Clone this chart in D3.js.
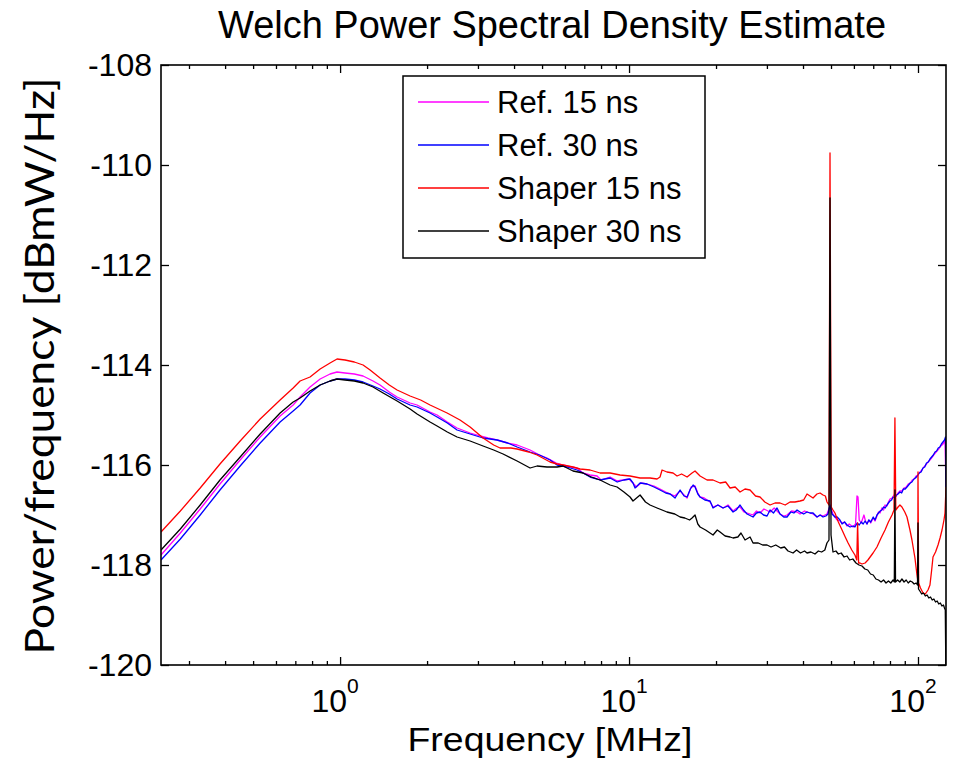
<!DOCTYPE html>
<html>
<head>
<meta charset="utf-8">
<script src="https://cdn.jsdelivr.net/npm/d3@7"></script>
<style>
  body { margin: 0; background: #fff; }
  text { font-family: "Liberation Sans", Arial, sans-serif; fill: #000; }
</style>
</head>
<body>
<div class="chart"></div>
<script>
// Welch PSD, values: [frequency MHz, dBmW/Hz]
const ref15 = [
  [0.240,-117.80],[0.280,-117.36],[0.328,-116.88],[0.384,-116.38],[0.451,-115.90],[0.529,-115.44],
  [0.620,-115.02],[0.688,-114.80],[0.727,-114.64],[0.787,-114.44],[0.853,-114.28],[0.923,-114.18],
  [0.976,-114.14],[1.040,-114.16],[1.120,-114.18],[1.201,-114.22],[1.300,-114.32],[1.375,-114.40],
  [1.480,-114.54],[1.575,-114.64],[1.747,-114.76],[1.847,-114.80],[2.048,-114.94],[2.166,-115.00],
  [2.350,-115.14],[2.540,-115.26],[2.818,-115.36],[2.979,-115.40],[3.250,-115.46],[3.494,-115.50],
  [3.800,-115.56],[4.098,-115.60],[4.545,-115.70],[4.900,-115.80],[5.204,-115.86],[5.600,-115.96],
  [5.910,-116.00],[6.300,-116.04],[6.609,-116.06],[6.932,-116.16],[7.330,-116.20],[7.750,-116.22],
  [8.000,-116.30],[8.600,-116.24],[9.100,-116.32],[9.500,-116.30],[10.00,-116.28],[10.32,-116.36],
  [10.60,-116.44],[11.00,-116.36],[11.54,-116.38],[12.20,-116.42],[12.80,-116.48],[13.40,-116.54],
  [13.90,-116.58],[14.40,-116.62],[15.02,-116.52],[15.50,-116.60],[15.88,-116.66],[16.40,-116.44],
  [16.92,-116.42],[17.30,-116.56],[17.61,-116.64],[18.20,-116.66],[19.07,-116.74],[19.53,-116.84],
  [20.30,-116.80],[21.15,-116.86],[22.00,-116.80],[22.91,-116.92],[23.60,-116.86],[24.22,-116.84],
  [25.00,-116.94],[25.61,-116.96],[26.86,-117.00],[27.60,-116.92],[28.40,-116.96],[29.30,-116.88],
  [30.76,-116.94],[31.80,-116.86],[32.52,-116.92],[33.31,-116.98],[34.30,-117.02],[35.22,-117.00],
  [36.50,-116.92],[38.14,-116.94],[39.06,-116.98],[40.50,-116.92],[42.30,-116.96],[43.33,-116.98],
  [44.73,-117.04],[46.00,-117.00],[46.92,-117.02],[48.43,-116.98],[49.60,-116.82],[50.80,-116.98],
  [51.60,-117.04],[52.50,-117.10],[53.70,-117.12],[54.60,-117.16],[55.70,-117.14],[56.80,-117.22],
  [57.80,-117.18],[59.60,-117.24],[60.80,-117.18],[61.50,-116.62],[62.00,-116.64],[62.60,-117.10],
  [63.60,-117.16],[65.00,-117.00],[65.80,-117.12],[66.60,-117.18],[67.60,-117.10],[68.60,-117.16],
  [70.00,-117.06],[71.00,-117.12],[72.10,-117.02],[73.00,-116.94],[73.90,-116.96],[75.00,-116.86],
  [76.00,-116.90],[76.90,-116.80],[78.10,-116.82],[79.00,-116.74],[80.00,-116.68],[81.30,-116.66],
  [82.60,-116.60],[84.00,-116.62],[85.30,-116.56],[86.60,-116.52],[88.00,-116.52],[89.50,-116.46],
  [91.00,-116.44],[92.50,-116.38],[94.00,-116.36],[95.50,-116.30],[97.00,-116.28],[98.50,-116.22],
  [100.0,-116.20],[101.6,-116.14],[103.2,-116.10],[104.8,-116.04],[106.5,-116.00],[108.3,-115.94],
  [110.0,-115.90],[112.0,-115.84],[114.0,-115.78],[116.3,-115.72],[118.0,-115.68],[120.0,-115.62],
  [122.1,-115.58],[124.0,-115.52],[125.0,-116.44]
];

const ref30 = [
  [0.240,-117.90],[0.280,-117.48],[0.328,-117.00],[0.384,-116.50],[0.451,-116.02],[0.529,-115.56],
  [0.620,-115.14],[0.688,-114.92],[0.727,-114.80],[0.787,-114.56],[0.853,-114.40],[0.923,-114.32],
  [0.976,-114.28],[1.040,-114.28],[1.120,-114.30],[1.201,-114.34],[1.300,-114.42],[1.375,-114.48],
  [1.480,-114.58],[1.575,-114.68],[1.747,-114.80],[1.847,-114.84],[2.048,-114.96],[2.166,-115.04],
  [2.350,-115.16],[2.540,-115.30],[2.818,-115.38],[3.125,-115.46],[3.494,-115.50],[3.800,-115.56],
  [4.098,-115.64],[4.545,-115.74],[4.900,-115.80],[5.330,-115.90],[5.636,-116.00],[6.100,-116.04],
  [6.609,-116.10],[6.932,-116.16],[7.329,-116.24],[7.750,-116.28],[7.937,-116.30],[8.597,-116.26],
  [9.100,-116.34],[9.600,-116.30],[10.08,-116.28],[10.32,-116.36],[10.49,-116.46],[10.92,-116.36],
  [11.54,-116.38],[12.20,-116.44],[12.80,-116.50],[13.40,-116.56],[13.87,-116.58],[14.43,-116.66],
  [15.02,-116.50],[15.50,-116.62],[15.88,-116.64],[16.30,-116.48],[16.66,-116.40],[16.92,-116.44],
  [17.30,-116.58],[17.61,-116.64],[18.30,-116.70],[19.07,-116.72],[19.53,-116.86],[20.30,-116.80],
  [21.15,-116.86],[22.00,-116.82],[22.91,-116.94],[23.50,-116.90],[24.22,-116.80],[24.90,-116.90],
  [25.61,-116.98],[26.86,-117.04],[27.60,-116.96],[28.40,-116.94],[29.20,-117.00],[30.03,-117.02],
  [30.76,-116.90],[31.60,-116.96],[32.52,-116.86],[33.31,-116.98],[34.30,-117.04],[35.22,-117.04],
  [36.30,-116.94],[37.20,-116.96],[38.14,-116.90],[39.06,-116.94],[40.20,-116.98],[41.30,-116.94],
  [42.30,-116.96],[43.33,-116.96],[44.73,-117.04],[45.80,-117.00],[46.92,-117.04],[48.00,-117.02],
  [48.82,-116.98],[49.60,-116.80],[50.40,-116.98],[51.60,-117.04],[52.50,-117.04],[53.70,-117.10],
  [54.60,-117.18],[55.70,-117.14],[56.80,-117.20],[58.20,-117.24],[59.60,-117.22],[60.50,-117.24],
  [61.60,-117.16],[62.60,-117.20],[63.60,-117.14],[64.60,-117.18],[65.60,-117.12],[66.60,-117.18],
  [67.60,-117.10],[68.60,-117.14],[70.00,-117.04],[71.00,-117.10],[72.10,-117.00],[73.00,-116.96],
  [74.00,-116.92],[75.00,-116.90],[76.00,-116.84],[77.00,-116.86],[78.10,-116.80],[79.00,-116.76],
  [80.00,-116.72],[81.00,-116.70],[82.00,-116.64],[83.20,-116.66],[84.30,-116.60],[85.30,-116.58],
  [86.60,-116.54],[87.80,-116.56],[89.00,-116.48],[90.30,-116.48],[91.60,-116.44],[92.80,-116.40],
  [94.00,-116.36],[95.30,-116.34],[96.80,-116.28],[98.00,-116.26],[99.50,-116.22],[101.0,-116.16],
  [102.5,-116.14],[104.0,-116.06],[105.5,-116.04],[107.0,-115.96],[108.6,-115.94],[110.0,-115.88],
  [111.5,-115.84],[113.0,-115.80],[114.5,-115.74],[116.0,-115.72],[117.5,-115.66],[119.0,-115.64],
  [120.5,-115.58],[122.0,-115.54],[123.5,-115.50],[124.5,-115.44],[125.0,-116.44]
];

const shaper15 = [
  [0.240,-117.34],[0.280,-116.92],[0.328,-116.46],[0.384,-115.98],[0.451,-115.52],[0.529,-115.08],
  [0.620,-114.70],[0.688,-114.46],[0.727,-114.32],[0.787,-114.24],[0.853,-114.08],[0.923,-113.96],
  [0.976,-113.88],[1.040,-113.90],[1.120,-113.94],[1.201,-114.00],[1.270,-114.10],[1.375,-114.26],
  [1.480,-114.40],[1.575,-114.50],[1.747,-114.62],[1.900,-114.70],[2.048,-114.80],[2.346,-114.96],
  [2.600,-115.10],[2.818,-115.24],[3.125,-115.46],[3.400,-115.60],[3.578,-115.66],[3.900,-115.66],
  [4.098,-115.68],[4.500,-115.74],[4.805,-115.80],[5.330,-115.94],[5.640,-115.98],[5.910,-116.00],
  [6.400,-116.04],[6.770,-116.08],[7.330,-116.10],[7.940,-116.16],[8.600,-116.16],[9.310,-116.20],
  [10.08,-116.22],[10.92,-116.26],[11.82,-116.26],[12.50,-116.28],[12.80,-116.24],[13.01,-116.10],
  [13.53,-116.14],[14.20,-116.16],[14.66,-116.22],[15.20,-116.18],[15.88,-116.24],[16.52,-116.16],
  [16.92,-116.12],[17.61,-116.22],[18.62,-116.30],[19.53,-116.30],[20.65,-116.36],[21.60,-116.34],
  [22.37,-116.46],[23.30,-116.44],[24.22,-116.54],[25.20,-116.48],[26.23,-116.50],[27.40,-116.62],
  [28.40,-116.64],[29.50,-116.74],[30.76,-116.80],[32.00,-116.76],[33.31,-116.76],[34.70,-116.80],
  [36.07,-116.74],[37.50,-116.74],[39.06,-116.72],[40.20,-116.70],[41.30,-116.58],[42.30,-116.62],
  [43.33,-116.66],[44.70,-116.58],[45.81,-116.56],[46.92,-116.60],[47.80,-116.62],[48.43,-116.74],
  [49.20,-116.80],[49.60,-109.76],[50.10,-116.84],[50.80,-116.90],[51.60,-116.96],[53.00,-117.14],
  [54.60,-117.30],[56.00,-117.44],[57.30,-117.56],[59.00,-117.70],[60.50,-117.80],[61.40,-117.90],
  [61.80,-117.16],[62.30,-117.96],[63.00,-117.96],[64.00,-117.98],[65.60,-117.96],[67.10,-117.90],
  [69.90,-117.76],[72.10,-117.64],[74.50,-117.46],[76.90,-117.30],[79.00,-117.14],[81.30,-117.00],
  [82.60,-116.90],[83.20,-115.06],[83.80,-116.90],[85.30,-116.84],[86.60,-116.80],[88.00,-116.84],
  [90.00,-116.94],[91.60,-117.04],[93.80,-117.30],[95.30,-117.50],[97.60,-117.86],[99.20,-118.20],
  [99.80,-118.30],[100.0,-116.14],[100.5,-118.36],[102.0,-118.46],[104.1,-118.56],[106.0,-118.58],
  [108.3,-118.50],[110.0,-118.40],[111.5,-118.10],[112.7,-117.84],[115.0,-117.74],[117.3,-117.60],
  [119.2,-117.46],[121.1,-117.30],[123.0,-117.10],[124.0,-116.96],[125.0,-116.44]
];

const shaper30 = [
  [0.240,-117.70],[0.280,-117.28],[0.328,-116.80],[0.384,-116.30],[0.451,-115.84],[0.529,-115.38],
  [0.620,-114.96],[0.688,-114.74],[0.727,-114.66],[0.787,-114.52],[0.853,-114.40],[0.923,-114.32],
  [0.976,-114.28],[1.040,-114.30],[1.120,-114.32],[1.201,-114.36],[1.300,-114.44],[1.409,-114.56],
  [1.575,-114.72],[1.747,-114.88],[1.847,-114.98],[2.048,-115.14],[2.166,-115.22],[2.350,-115.34],
  [2.540,-115.44],[2.818,-115.52],[3.125,-115.62],[3.400,-115.70],[3.665,-115.78],[4.098,-115.92],
  [4.545,-116.06],[4.805,-116.02],[5.200,-116.04],[5.636,-116.04],[5.910,-116.02],[6.400,-116.12],
  [6.932,-116.16],[7.400,-116.24],[7.937,-116.30],[8.600,-116.40],[9.089,-116.44],[9.600,-116.54],
  [10.08,-116.64],[10.32,-116.72],[10.92,-116.60],[11.40,-116.74],[11.82,-116.80],[12.50,-116.86],
  [13.53,-116.94],[14.40,-116.98],[15.02,-117.04],[15.60,-117.06],[16.20,-117.10],[16.52,-117.06],
  [16.92,-117.00],[17.30,-117.18],[17.61,-117.24],[18.40,-117.30],[19.53,-117.40],[20.20,-117.30],
  [20.65,-117.34],[21.50,-117.42],[22.37,-117.44],[22.91,-117.46],[23.80,-117.44],[24.40,-117.36],
  [25.20,-117.50],[26.23,-117.44],[26.86,-117.56],[28.00,-117.56],[29.00,-117.60],[30.03,-117.60],
  [31.00,-117.64],[32.20,-117.60],[33.50,-117.66],[34.50,-117.64],[35.50,-117.72],[36.94,-117.76],
  [38.00,-117.70],[39.20,-117.76],[40.50,-117.72],[41.30,-117.76],[42.60,-117.74],[44.00,-117.78],
  [45.20,-117.72],[46.40,-117.74],[47.60,-117.70],[48.40,-117.56],[49.20,-117.50],[49.60,-110.66],
  [50.00,-117.40],[50.80,-117.74],[52.00,-117.72],[53.00,-117.78],[54.20,-117.76],[55.50,-117.84],
  [56.80,-117.82],[58.00,-117.90],[59.50,-117.88],[61.00,-117.96],[62.50,-118.00],[64.00,-118.02],
  [65.50,-118.08],[67.00,-118.10],[68.50,-118.18],[70.00,-118.20],[71.50,-118.28],[73.00,-118.30],
  [74.50,-118.34],[76.00,-118.30],[77.50,-118.36],[79.00,-118.32],[80.50,-118.36],[82.00,-118.30],
  [82.80,-118.34],[83.20,-116.50],[83.60,-118.34],[85.00,-118.30],[86.50,-118.34],[88.00,-118.28],
  [89.50,-118.34],[91.00,-118.30],[92.50,-118.36],[94.00,-118.32],[95.50,-118.34],[97.00,-118.38],
  [98.50,-118.36],[99.60,-118.40],[100.0,-117.16],[100.4,-118.48],[101.5,-118.52],[103.0,-118.58],
  [104.5,-118.56],[106.0,-118.62],[107.5,-118.60],[109.0,-118.66],[110.5,-118.64],[112.0,-118.70],
  [113.5,-118.68],[115.0,-118.74],[116.5,-118.72],[118.0,-118.78],[119.5,-118.76],[121.0,-118.82],
  [122.5,-118.80],[123.5,-118.86],[124.3,-118.90],[125.0,-120.40]
];

const seriesNames = ['Ref. 15 ns', 'Ref. 30 ns', 'Shaper 15 ns', 'Shaper 30 ns'];
const seriesData = [ref15, ref30, shaper15, shaper30];
const yTicks = [-120, -118, -116, -114, -112, -110, -108];
const xMajorTicks = [1, 10, 100];
const xMinorTicks = [0.3,0.4,0.5,0.6,0.7,0.8,0.9, 2,3,4,5,6,7,8,9, 20,30,40,50,60,70,80,90];
const xDomain = [0.24, 125];
const yDomain = [-120, -108];

// styles
const colors = ['#ff00ff', '#0000ff', '#ff0000', '#000000'];
const svgW = 957, svgH = 762;
const plot = {left: 161, right: 946, top: 65, bottom: 665};

const svg = d3.select('.chart').append('svg')
  .attr('width', svgW).attr('height', svgH);

const x = d3.scaleLog().domain(xDomain).range([plot.left, plot.right]);
const y = d3.scaleLinear().domain(yDomain).range([plot.bottom, plot.top]);

// clip so the lines stay inside the box
svg.append('clipPath').attr('id', 'plotClip')
  .append('rect')
  .attr('x', plot.left).attr('y', plot.top)
  .attr('width', plot.right - plot.left).attr('height', plot.bottom - plot.top);

const line = d3.line().x(d => x(d[0])).y(d => y(d[1]));

svg.append('g').attr('clip-path', 'url(#plotClip)')
  .selectAll('path').data(seriesData).join('path')
  .attr('d', line)
  .attr('fill', 'none')
  .attr('stroke', (d, i) => colors[i])
  .attr('stroke-width', 1.3)
  .attr('stroke-linejoin', 'round');

// ticks, all pointing inward like MATLAB
function styleAxis(g) {
  g.select('.domain').remove();
  g.selectAll('.tick line').attr('stroke', '#000').attr('stroke-width', 1.3);
}
svg.append('g').attr('transform', `translate(0,${plot.bottom})`)
  .call(d3.axisBottom(x).tickValues(xMajorTicks).tickSize(-8).tickFormat(''))
  .call(styleAxis);
svg.append('g').attr('transform', `translate(0,${plot.bottom})`)
  .call(d3.axisBottom(x).tickValues(xMinorTicks).tickSize(-4).tickFormat(''))
  .call(styleAxis);
svg.append('g').attr('transform', `translate(0,${plot.top})`)
  .call(d3.axisTop(x).tickValues(xMajorTicks).tickSize(-8).tickFormat(''))
  .call(styleAxis);
svg.append('g').attr('transform', `translate(0,${plot.top})`)
  .call(d3.axisTop(x).tickValues(xMinorTicks).tickSize(-4).tickFormat(''))
  .call(styleAxis);

svg.append('g').attr('transform', `translate(${plot.left},0)`)
  .call(d3.axisLeft(y).tickValues(yTicks).tickSize(-8).tickPadding(9).tickFormat(d => String(d)))
  .call(styleAxis)
  .call(g => g.selectAll('text')
    .style('font-family', '"Liberation Sans", Arial, sans-serif')
    .style('font-size', '32px'));
svg.append('g').attr('transform', `translate(${plot.right},0)`)
  .call(d3.axisRight(y).tickValues(yTicks).tickSize(-8).tickFormat(''))
  .call(styleAxis);

// x tick labels 10^n
const xLab = svg.append('g').selectAll('text').data(xMajorTicks).join('text')
  .attr('x', d => x(d) - 5).attr('y', 712)
  .attr('text-anchor', 'middle')
  .style('font-size', '32px');
xLab.append('tspan').text('10');
xLab.append('tspan').attr('dy', -19).style('font-size', '21px').text(d => Math.round(Math.log10(d)));

// box
svg.append('rect')
  .attr('x', plot.left).attr('y', plot.top)
  .attr('width', plot.right - plot.left).attr('height', plot.bottom - plot.top)
  .attr('fill', 'none').attr('stroke', '#000').attr('stroke-width', 1.6);

// title + axis labels
svg.append('text').attr('x', 552).attr('y', 38).attr('text-anchor', 'middle')
  .attr('textLength', 668).attr('lengthAdjust', 'spacingAndGlyphs')
  .style('font-size', '38px').text('Welch Power Spectral Density Estimate');

svg.append('text').attr('x', 550).attr('y', 751).attr('text-anchor', 'middle')
  .attr('textLength', 285).attr('lengthAdjust', 'spacingAndGlyphs')
  .style('font-size', '34px').text('Frequency [MHz]');

svg.append('text').attr('transform', 'translate(54,366) rotate(-90)')
  .attr('text-anchor', 'middle')
  .attr('textLength', 577).attr('lengthAdjust', 'spacingAndGlyphs')
  .style('font-family', 'Lato, "Open Sans", sans-serif')
  .style('font-size', '41px').text('Power/frequency [dBmW/Hz]');

// legend
const legend = svg.append('g');
legend.append('rect')
  .attr('x', 403).attr('y', 76).attr('width', 302).attr('height', 182)
  .attr('fill', '#fff').attr('stroke', '#000').attr('stroke-width', 1.5);
const rowY = d3.scalePoint().domain(seriesNames).range([102, 231]);
const rows = legend.selectAll('.row').data(seriesNames).join('g').attr('class', 'row')
  .attr('transform', d => `translate(0,${rowY(d)})`);
rows.append('line').attr('x1', 418).attr('x2', 489)
  .attr('stroke', (d, i) => colors[i]).attr('stroke-width', 1.3);
rows.append('text').attr('x', 497).attr('y', 11)
  .style('font-size', '31px').text(d => d);
</script>
</body>
</html>
